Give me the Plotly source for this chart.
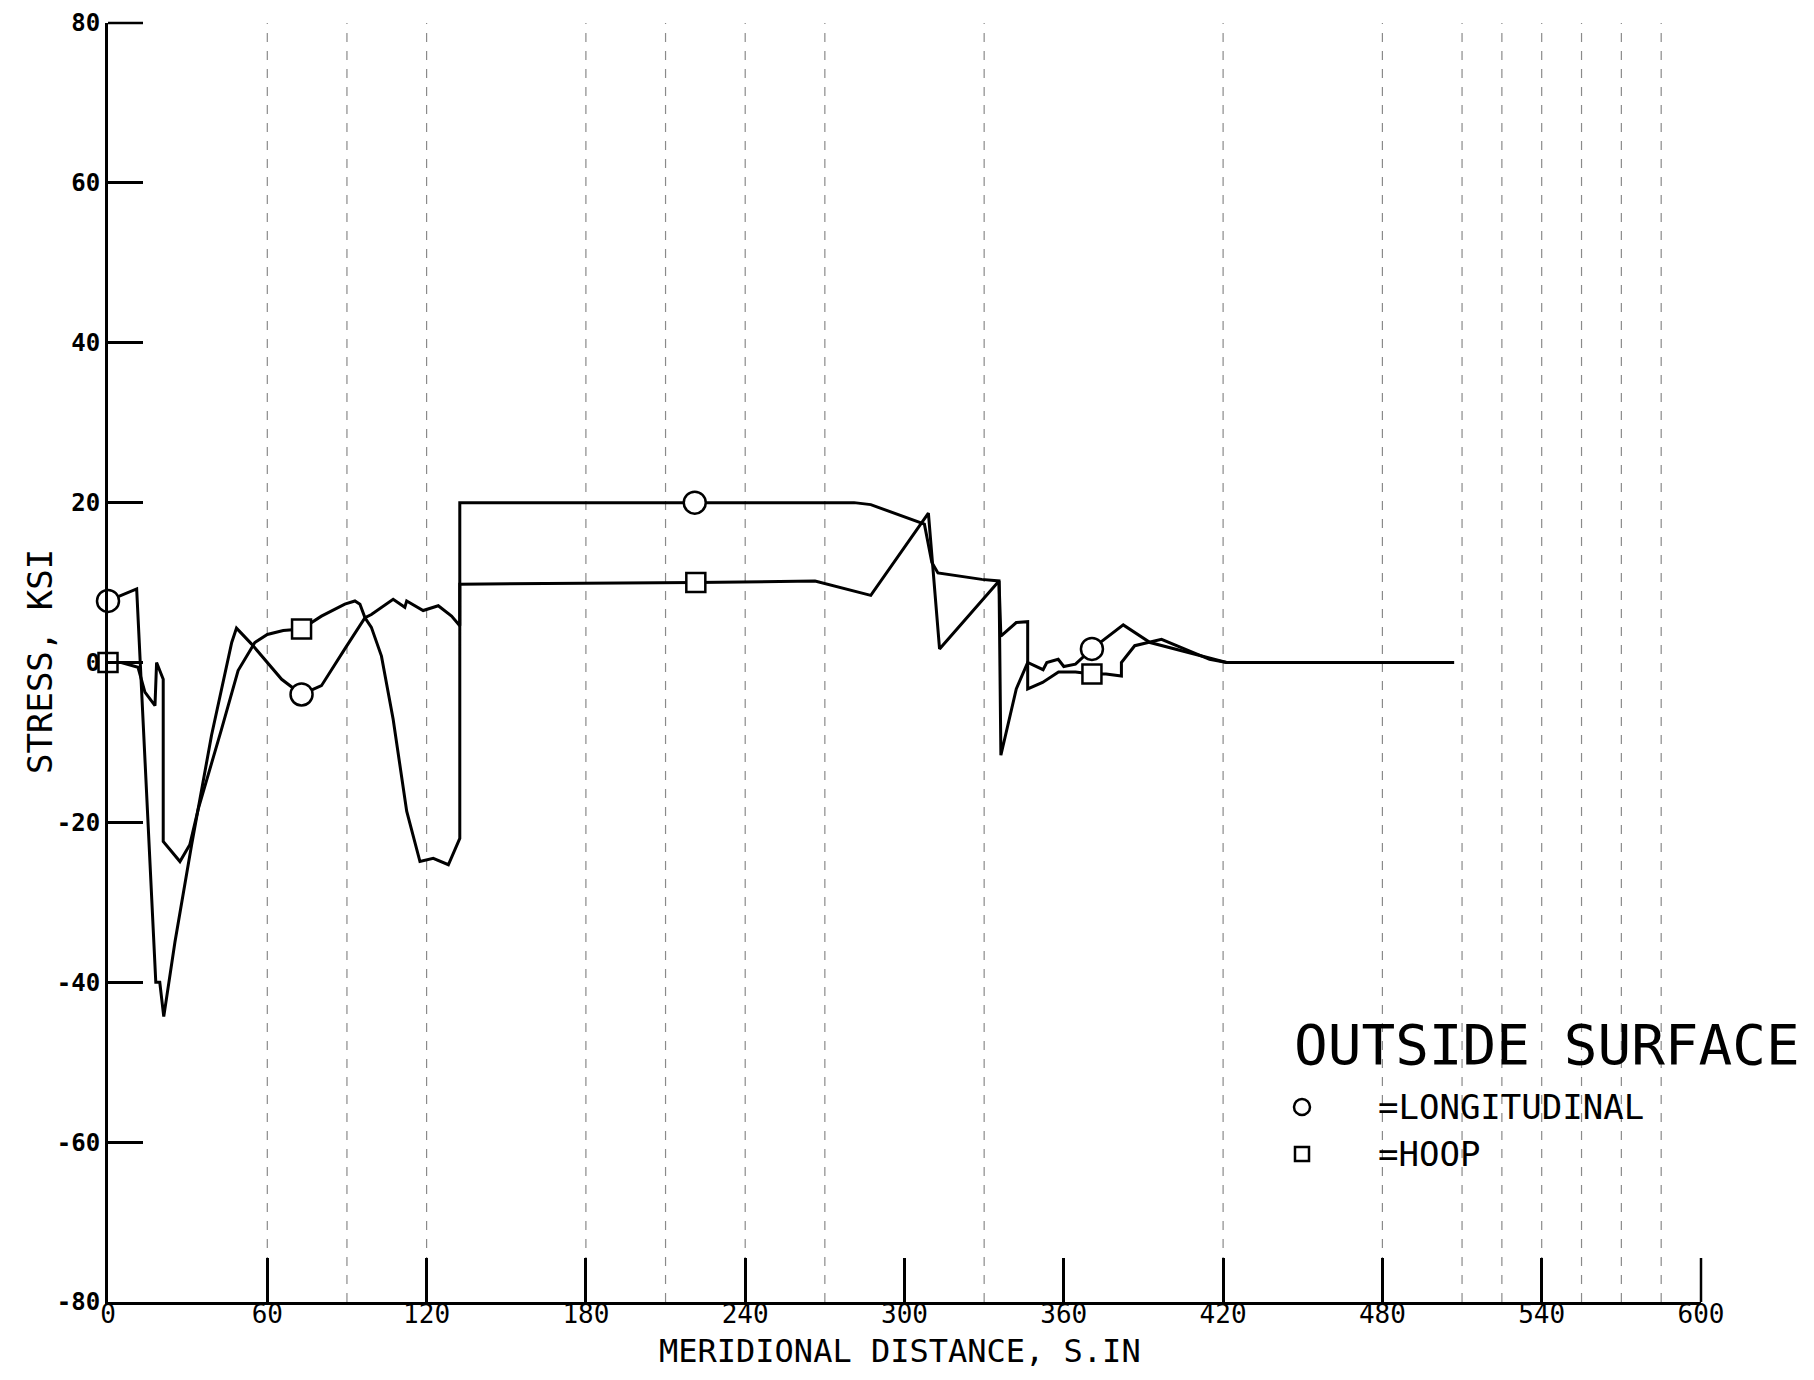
import plotly.graph_objects as go

# ---------------- data ----------------
long_x = [0, 4.5, 10.8, 18.0, 19.5, 21.0, 25.2, 31.5, 39.0, 46.6, 48.4, 54.1, 65.4, 72.9,
          80.4, 89.2, 96.8, 99.2, 107.4, 111.8, 112.5, 118.7, 124.4, 129.4, 132.5, 132.5,
          221.0, 281.0, 287.3, 298.9, 307.5, 310.3, 312.6, 329.1, 335.6, 336.3, 342.1,
          346.4, 352.2, 353.6, 357.9, 360.0, 364.4, 370.6, 374.5, 382.4, 392.5, 414.1,
          421.3, 507.0]
long_y = [7.7, 8.3, 9.2, -40.0, -40.0, -44.3, -35.0, -22.8, -9.1, 2.5, 4.3, 2.3, -2.1, -4.0,
          -2.9, 1.7, 5.6, 6.0, 7.9, 6.9, 7.7, 6.5, 7.1, 5.8, 4.6, 20.0,
          20.0, 20.0, 19.75, 18.3, 17.3, 12.5, 11.2, 10.4, 10.2, -11.6, -3.3,
          0.0, -0.9, 0.0, 0.4, -0.5, -0.2, 1.7, 2.7, 4.7, 2.5, 0.6,
          0.0, 0.0]

hoop_x = [0, 5.0, 11.3, 13.9, 17.7, 18.3, 20.8, 20.8, 27.1, 30.8, 34.0, 37.8, 42.8, 49.0,
          55.3, 60.0, 66.0, 72.9, 80.4, 89.2, 93.0, 94.9, 96.8, 99.2, 103.0, 107.4, 111.2,
          112.5, 117.5, 122.5, 128.2, 132.5, 132.5, 221.4, 266.3, 287.3, 309.0, 313.2,
          335.6, 336.3, 342.1, 346.4, 346.4, 352.0, 358.0, 364.4, 370.6, 375.9, 381.7,
          381.7, 386.7, 396.8, 414.9, 421.3, 507.0]
hoop_y = [0.0, 0.0, -0.6, -3.7, -5.4, 0.0, -2.1, -22.4, -24.9, -22.8, -18.3, -14.1, -8.3, -1.0,
          2.5, 3.5, 4.0, 4.2, 5.8, 7.3, 7.7, 7.3, 5.6, 4.4, 0.8, -7.1, -15.8,
          -18.6, -24.9, -24.5, -25.3, -22.0, 9.8, 10.0, 10.2, 8.4, 18.7, 1.7,
          10.2, 3.3, 5.0, 5.1, -3.3, -2.5, -1.2, -1.2, -1.45, -1.45, -1.7,
          0.0, 2.1, 2.9, 0.4, 0.0, 0.0]

long_mark_x = [0, 72.9, 221.0, 370.6]
long_mark_y = [7.7, -4.0, 20.0, 1.7]
hoop_mark_x = [0, 72.9, 221.4, 370.6]
hoop_mark_y = [0.0, 4.2, 10.0, -1.45]

x_ticks = [0, 60, 120, 180, 240, 300, 360, 420, 480, 540, 600]
y_ticks = [80, 60, 40, 20, 0, -20, -40, -60, -80]

# faint bleed-through paper grid visible in the scan (x positions)
paper_grid_x = [60, 90, 120, 180, 210, 240, 270, 330, 420, 480, 510, 525, 540, 555, 570, 585]

FONT = "DejaVu Sans Mono, Liberation Mono, monospace"

# plot area in pixels
L, R, T, B = 100, 1693, 15, 1294
W, H = 1814, 1380
XTICKLEN, YTICKLEN = 44, 35

def px(xp):
    return (xp - L) / float(R - L)

def py(yp):
    return (B - yp) / float(B - T)

fig = go.Figure()

for gx in paper_grid_x:
    fig.add_shape(type="line", x0=gx, x1=gx, y0=-80, y1=80, xref="x", yref="y",
                  line=dict(color="#8a8a8a", width=1.2, dash="dash"), layer="below")

fig.add_trace(go.Scatter(x=long_x, y=long_y, mode="lines",
                         line=dict(color="black", width=3), name="LONGITUDINAL",
                         showlegend=False))
fig.add_trace(go.Scatter(x=hoop_x, y=hoop_y, mode="lines",
                         line=dict(color="black", width=3), name="HOOP",
                         showlegend=False))
fig.add_trace(go.Scatter(x=long_mark_x, y=long_mark_y, mode="markers",
                         marker=dict(symbol="circle", size=22, color="white",
                                     line=dict(color="black", width=2.5)),
                         showlegend=False, cliponaxis=False))
fig.add_trace(go.Scatter(x=hoop_mark_x, y=hoop_mark_y, mode="markers",
                         marker=dict(symbol="square", size=19, color="white",
                                     line=dict(color="black", width=2.5)),
                         showlegend=False, cliponaxis=False))

# tick marks at the two far ends of the axes (plotly drops the edge ones)
fig.add_shape(type="line", xref="paper", yref="paper", xsizemode="pixel", xanchor=0,
              x0=0, x1=YTICKLEN, y0=1, y1=1, line=dict(color="black", width=2.5))
fig.add_shape(type="line", xref="paper", yref="paper", ysizemode="pixel", yanchor=0,
              y0=0, y1=XTICKLEN, x0=1, x1=1, line=dict(color="black", width=2.5))

ann = []
ann.append(dict(text="OUTSIDE SURFACE", x=px(1284), y=py(1036), xref="paper", yref="paper",
                xanchor="left", yanchor="middle", showarrow=False,
                font=dict(family=FONT, size=56, color="black")))
ann.append(dict(text="=LONGITUDINAL", x=px(1368), y=py(1099), xref="paper", yref="paper",
                xanchor="left", yanchor="middle", showarrow=False,
                font=dict(family=FONT, size=34, color="black")))
ann.append(dict(text="=HOOP", x=px(1368), y=py(1146), xref="paper", yref="paper",
                xanchor="left", yanchor="middle", showarrow=False,
                font=dict(family=FONT, size=34, color="black")))
ann.append(dict(text="MERIDIONAL DISTANCE, S.IN", x=px(892), y=py(1343), xref="paper",
                yref="paper", xanchor="center", yanchor="middle", showarrow=False,
                font=dict(family=FONT, size=32, color="black")))
ann.append(dict(text="STRESS, KSI", x=px(32), y=py(654), xref="paper", yref="paper",
                xanchor="center", yanchor="middle", showarrow=False, textangle=-90,
                font=dict(family=FONT, size=34, color="black")))

# legend symbols
fig.add_shape(type="circle", xref="paper", yref="paper", xsizemode="pixel", ysizemode="pixel",
              xanchor=px(1294), yanchor=py(1099), x0=-8, x1=8, y0=-8, y1=8,
              line=dict(color="black", width=2.5))
fig.add_shape(type="rect", xref="paper", yref="paper", xsizemode="pixel", ysizemode="pixel",
              xanchor=px(1294), yanchor=py(1146), x0=-7, x1=7, y0=-7, y1=7,
              line=dict(color="black", width=2.5))

fig.update_layout(
    width=W, height=H,
    margin=dict(l=L, r=W - R, t=T, b=H - B, autoexpand=False),
    paper_bgcolor="white", plot_bgcolor="white",
    annotations=ann,
    showlegend=False,
    xaxis=dict(range=[0, 600], tickvals=x_ticks, ticktext=[str(v) for v in x_ticks],
               showline=True, linecolor="black", linewidth=3, mirror=False,
               ticks="inside", ticklen=XTICKLEN, tickwidth=2.5, tickcolor="black",
               showgrid=False, zeroline=False, automargin=False,
               ticklabelstandoff=-13, ticklabeloverflow="allow",
               tickfont=dict(family=FONT, size=26, color="black")),
    yaxis=dict(range=[-80, 80], tickvals=y_ticks, ticktext=[str(v) for v in y_ticks],
               showline=True, linecolor="black", linewidth=3, mirror=False,
               ticks="inside", ticklen=YTICKLEN, tickwidth=2.5, tickcolor="black",
               showgrid=False, zeroline=False, automargin=False,
               ticklabeloverflow="allow",
               tickfont=dict(family=FONT, size=24, color="black", weight="bold")),
)

fig.write_html("out.html")
